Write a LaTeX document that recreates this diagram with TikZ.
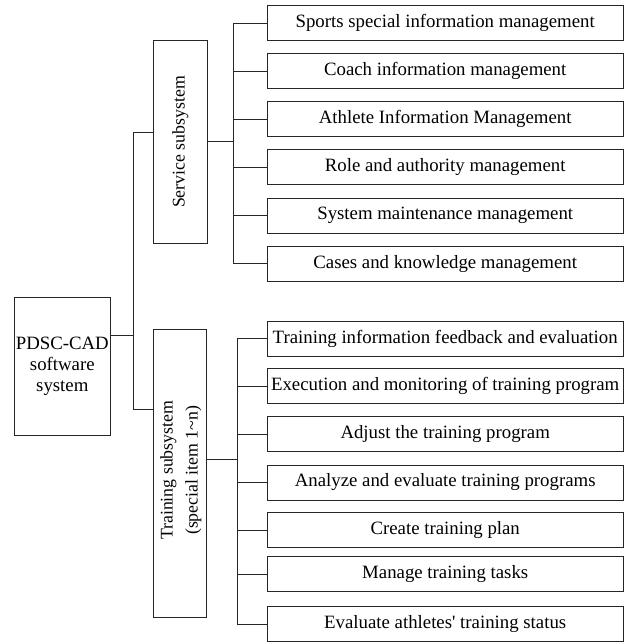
\documentclass[tikz,border=0pt]{standalone}
\usepackage{fontspec}
\setmainfont{Liberation Serif}
\begin{document}
\begin{tikzpicture}[x=1pt,y=-1pt,
  box/.style={draw=black!85,line width=0.9pt,inner sep=0pt,font=\fontsize{18.8}{21}\selectfont},
  item/.style={box,minimum width=355.7pt,minimum height=35pt},
  rottext/.style={rotate=90,align=center,font=\fontsize{17.8}{25}\selectfont},
  link/.style={draw=black!85,line width=0.9pt}]
\useasboundingbox (0,0) rectangle (624,644);
% root
\node[box,minimum width=96pt,minimum height=137.6pt,align=center] (root) at (62.3,366.5)
  {PDSC-CAD\\software\\system};
% subsystems
\node[box,minimum width=53.7pt,minimum height=202.3pt] (service) at (180.3,141.9) {};
\node[rottext] (servicetext) at (service.center) {Service subsystem};
\node[box,minimum width=53pt,minimum height=288pt] (training) at (179.8,473.3) {};
\node[rottext] (trainingtext) at ([xshift=1pt,yshift=3pt]training.center) {Training subsystem\\(special item 1\textasciitilde n)};
% service items
\node[item] (s1) at (445.2,23.2) {Sports special information management};
\node[item] (s2) at (445.2,71.3) {Coach information management};
\node[item] (s3) at (445.2,119.3) {Athlete Information Management};
\node[item] (s4) at (445.2,167.3) {Role and authority management};
\node[item] (s5) at (445.2,215.7) {System maintenance management};
\node[item] (s6) at (445.2,263.7) {Cases and knowledge management};
% training items
\node[item] (t1) at (445.2,338.8) {Training information feedback and evaluation};
\node[item] (t2) at (445.2,386.0) {Execution and monitoring of training program};
\node[item] (t3) at (445.2,434.2) {Adjust the training program};
\node[item] (t4) at (445.2,482.5) {Analyze and evaluate training programs};
\node[item] (t5) at (445.2,530.2) {Create training plan};
\node[item] (t6) at (445.2,574.2) {Manage training tasks};
\node[item] (t7) at (445.2,624.2) {Evaluate athletes\textquotesingle\ training status};
% bus coordinates
\coordinate (rb) at (133.7,0);
\coordinate (sb) at (233.7,0);
\coordinate (tb) at (237.7,0);
% root connectors
\draw[link] ([yshift=31.2pt]root.east) -- ([yshift=31.2pt]root.east -| rb);
\draw[link] ([yshift=9.6pt]service.west) -- ([yshift=9.6pt]service.west -| rb)
  -- ([yshift=64pt]training.west -| rb) -- ([yshift=64pt]training.west);
% service bus
\draw[link] (service.east) -- (service.east -| sb);
\draw[link] (s1.west) -- (s1.west -| sb) -- (s6.west -| sb) -- (s6.west);
\foreach \n in {s2,s3,s4,s5} \draw[link] (\n.west) -- (\n.west -| sb);
% training bus
\draw[link] ([yshift=14.3pt]training.east) -- ([yshift=14.3pt]training.east -| tb);
\draw[link] (t1.west) -- (t1.west -| tb) -- (t7.west -| tb) -- (t7.west);
\foreach \n in {t2,t3,t4,t5,t6} \draw[link] (\n.west) -- (\n.west -| tb);
\end{tikzpicture}
\end{document}
